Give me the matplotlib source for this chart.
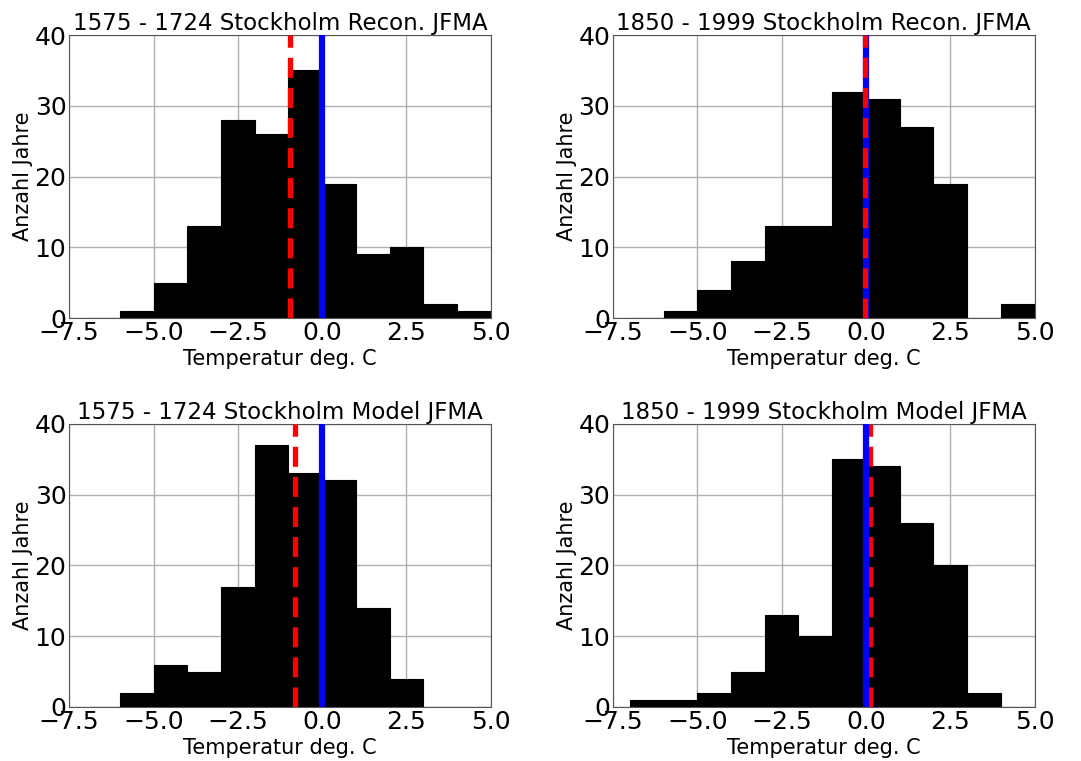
import numpy as np
import matplotlib
matplotlib.use("Agg")
import matplotlib.pyplot as plt

edges = np.arange(-7, 6, 1)  # 1 deg bins from -7 to 5

titles = ["1575 - 1724 Stockholm Recon. JFMA",
          "1850 - 1999 Stockholm Recon. JFMA",
          "1575 - 1724 Stockholm Model JFMA",
          "1850 - 1999 Stockholm Model JFMA"]

# counts per bin, bins -7..-6, -6..-5, ..., 4..5
recon_early = [0, 1, 5, 13, 28, 26, 35, 19, 9, 10, 2, 1]
recon_late = [0, 1, 4, 8, 13, 13, 32, 31, 27, 19, 0, 2]
model_early = [0, 2, 6, 5, 17, 37, 33, 32, 14, 4, 0, 0]
model_late = [1, 1, 2, 5, 13, 10, 35, 34, 26, 20, 2, 0]

# reference mean (blue) and period mean (red dashed)
ref_mean = [0.0, 0.0, 0.0, 0.0]
period_mean = [-0.95, -0.02, -0.81, 0.12]
red_on_top = [True, True, True, False]

xticks = [-7.5, -5.0, -2.5, 0.0, 2.5, 5.0]
yticks = [0, 10, 20, 30, 40]

fig = plt.figure(figsize=(10.81, 7.61), dpi=100)
pos = [[0.064, 0.582, 0.390, 0.372],
       [0.567, 0.582, 0.390, 0.372],
       [0.064, 0.071, 0.390, 0.372],
       [0.567, 0.071, 0.390, 0.372]]

centers = edges[:-1] + 0.5
for i, counts in enumerate([recon_early, recon_late, model_early, model_late]):
    ax = fig.add_axes(pos[i])
    ax.set_axisbelow(True)
    ax.grid(True, color="#b0b0b0", lw=1)
    ax.hist(centers, bins=edges, weights=counts, color="black", edgecolor="black", lw=0.8)
    zr = 4 if red_on_top[i] else 2
    ax.axvline(ref_mean[i], color="blue", lw=4.5, zorder=3)
    ax.axvline(period_mean[i], color="red", lw=3.8, ls="--", dashes=(3.8, 1.9), zorder=zr)
    ax.set_xlim(-7.5, 5)
    ax.set_ylim(0, 40)
    ax.set_xticks(xticks)
    ax.set_yticks(yticks)
    ax.tick_params(labelsize=18, direction="in", length=0, pad=2)
    for s in ax.spines.values():
        s.set_color("#555555")
    ax.set_title(titles[i], fontsize=16.5, pad=3)
    ax.set_xlabel("Temperatur deg. C", fontsize=15, labelpad=3)
    ax.set_ylabel("Anzahl Jahre", fontsize=15, labelpad=1)

fig.savefig("out.png", dpi=100)
